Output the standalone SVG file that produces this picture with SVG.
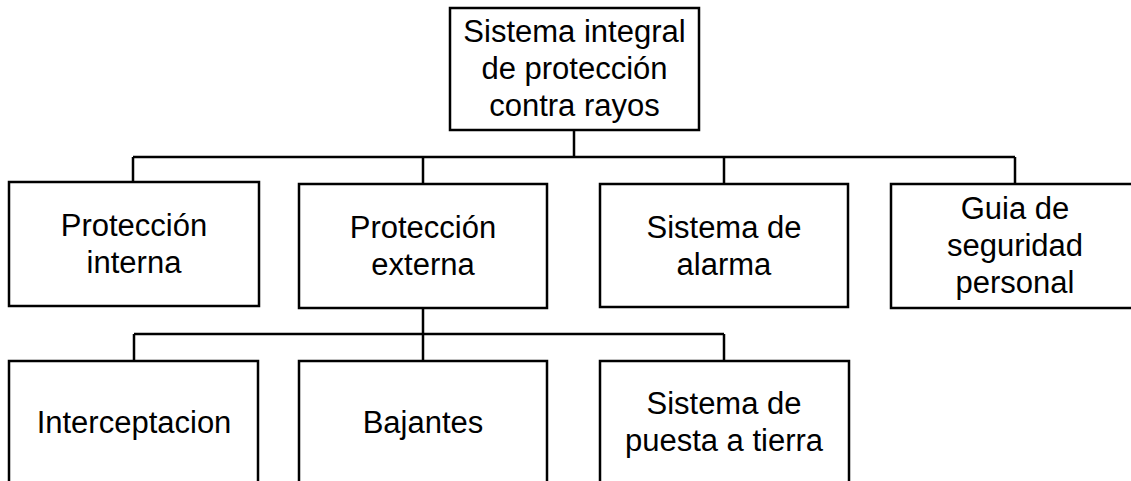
<svg xmlns="http://www.w3.org/2000/svg" width="1131" height="481" viewBox="0 0 1131 481">
<style>
.box{fill:#fff;stroke:#000;stroke-width:2.5}
.lnk{fill:none;stroke:#000;stroke-width:2.5}
text{font-family:"Liberation Sans",Arial,sans-serif;font-size:31px;fill:#000;text-anchor:middle}
</style>
<rect width="1131" height="481" fill="#fff"/>
<g id="connectors">
<path class="lnk" d="M574,130 V157 M133,157 H1015 M133,157 V182 M423,157 V184 M724,157 V184 M1015,157 V184"/>
<path class="lnk" d="M423,308 V361 M134,334 H724 M134,334 V361 M724,334 V361"/>
</g>
<g id="n-root">
<rect class="box" x="450" y="8" width="249" height="122"/>
<text x="574.5" y="42">Sistema integral</text>
<text x="574.5" y="79">de protección</text>
<text x="574.5" y="116">contra rayos</text>
</g>
<g id="n-interna">
<rect class="box" x="9" y="182" width="250" height="124"/>
<text x="134" y="235.5">Protección</text>
<text x="134" y="272.5">interna</text>
</g>
<g id="n-externa">
<rect class="box" x="299" y="184" width="248" height="124"/>
<text x="423" y="237.5">Protección</text>
<text x="423" y="274.5">externa</text>
</g>
<g id="n-alarma">
<rect class="box" x="600" y="184" width="248" height="123"/>
<text x="724" y="237.5">Sistema de</text>
<text x="724" y="274.5">alarma</text>
</g>
<g id="n-guia">
<rect class="box" x="891" y="184" width="248" height="124"/>
<text x="1015" y="219">Guia de</text>
<text x="1015" y="256">seguridad</text>
<text x="1015" y="293">personal</text>
</g>
<g id="n-interceptacion">
<rect class="box" x="9" y="361" width="249" height="130"/>
<text x="134" y="433">Interceptacion</text>
</g>
<g id="n-bajantes">
<rect class="box" x="299" y="361" width="248" height="130"/>
<text x="423" y="433">Bajantes</text>
</g>
<g id="n-tierra">
<rect class="box" x="600" y="361" width="249" height="130"/>
<text x="724" y="414">Sistema de</text>
<text x="724" y="451">puesta a tierra</text>
</g>
</svg>
